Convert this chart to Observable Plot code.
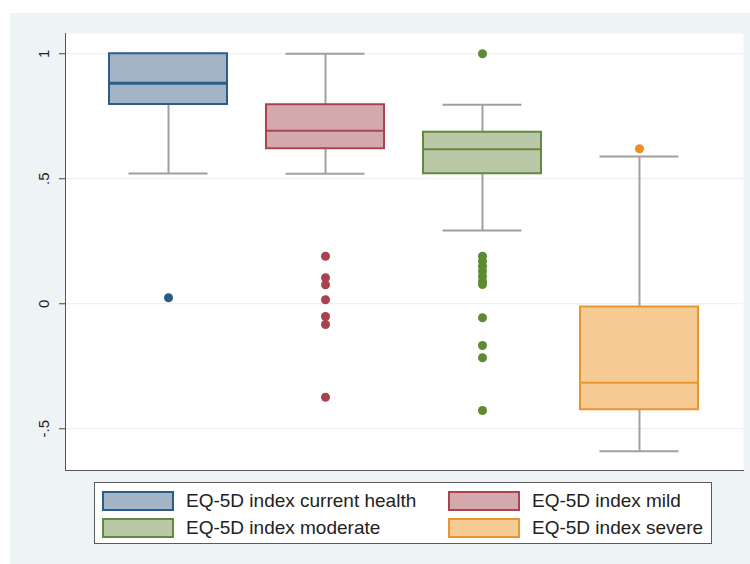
<!DOCTYPE html>
<html>
<head>
<meta charset="utf-8">
<script src="https://cdn.jsdelivr.net/npm/d3@7"></script>
<script src="https://cdn.jsdelivr.net/npm/@observablehq/plot@0.6"></script>
<style>
  body { margin: 0; background: #fff; }
  #wrap { position: relative; width: 750px; height: 564px; overflow: hidden; background: #fff; font-family: "Liberation Sans", Arial, sans-serif; }
  #panel { position: absolute; left: 10px; top: 13px; width: 740px; height: 551px; background: #eef3f6; }
  #chart { position: absolute; left: 0; top: 0; }
  #legend { position: absolute; left: 94px; top: 482px; width: 618px; height: 62px; border: 1px solid #5a5a5a; background: #fff; box-sizing: border-box; }
  .sw { position: absolute; width: 72px; height: 20px; box-sizing: border-box; border: 2px solid; }
  .lt { position: absolute; font-size: 19px; color: #222; line-height: 20px; white-space: nowrap; }
</style>
</head>
<body>
<div id="wrap">
  <div id="panel"></div>
  <div id="chart"></div>
  <div id="legend"></div>
</div>
<script>
const categories = ["EQ-5D index current health", "EQ-5D index mild", "EQ-5D index moderate", "EQ-5D index severe"];
const q1 = [0.797, 0.62, 0.52, -0.424];
const medians = [0.882, 0.692, 0.618, -0.316];
const q3 = [1.0, 0.796, 0.686, -0.013];
const whiskerLow = [0.521, 0.52, 0.293, -0.59];
const whiskerHigh = [1.0, 1.0, 0.796, 0.589];
const outliers = [
  [0.024],
  [0.19, 0.104, 0.076, 0.016, -0.051, -0.083, -0.374],
  [1.0, 0.19, 0.17, 0.15, 0.13, 0.11, 0.09, 0.077, -0.056, -0.167, -0.216, -0.427],
  [0.62]
];
const fills = ["#a3b4c6", "#d4a9ae", "#bac8a7", "#f5ca93"];
const strokes = ["#2c5d8a", "#ab4450", "#628a3c", "#ea9430"];
const dotColors = ["#2a5b87", "#a8424c", "#5f8a34", "#eb8f22"];
const yTicks = [-0.5, 0, 0.5, 1];
const yTickLabels = ["-.5", "0", ".5", "1"];

const rows = categories.map((c, i) => ({
  cat: c, q1: q1[i], med: medians[i], q3: q3[i], lo: whiskerLow[i], hi: whiskerHigh[i],
  fill: fills[i], stroke: strokes[i], mw: i === 0 ? 3 : 2
}));
const pts = categories.flatMap((c, i) => outliers[i].map(v => ({cat: c, v, color: dotColors[i]})));

const chart = Plot.plot({
  width: 750, height: 480,
  marginLeft: 65, marginRight: 7, marginTop: 33, marginBottom: 10,
  style: { background: "transparent", fontFamily: "'Liberation Sans', Arial, sans-serif", fontSize: "15px", color: "#333" },
  x: { domain: categories, paddingInner: 0.246, paddingOuter: 0.27, axis: null },
  y: { domain: [-0.667, 1.081] },
  marks: [
    Plot.frame({ fill: "white", stroke: "none" }),
    Plot.ruleY(yTicks, { stroke: "#e9eef2", strokeWidth: 1 }),
    Plot.ruleX(rows, { x: "cat", y1: "lo", y2: "q1", stroke: "#a0a0a0", strokeWidth: 2 }),
    Plot.ruleX(rows, { x: "cat", y1: "q3", y2: "hi", stroke: "#a0a0a0", strokeWidth: 2 }),
    Plot.tickY(rows, { x: "cat", y: "lo", stroke: "#a0a0a0", strokeWidth: 2, insetLeft: 19.5, insetRight: 19.5 }),
    Plot.tickY(rows, { x: "cat", y: "hi", stroke: "#a0a0a0", strokeWidth: 2, insetLeft: 19.5, insetRight: 19.5 }),
    Plot.barY(rows, { x: "cat", y1: "q1", y2: "q3", fill: "fill", stroke: "stroke", strokeWidth: 2 }),
    Plot.tickY(rows, { x: "cat", y: "med", stroke: "stroke", strokeWidth: "mw" }),
    Plot.dot(pts, { x: "cat", y: "v", fill: "color", r: 4.5, stroke: "none" }),
    Plot.axisY(yTicks, {
      tickFormat: d => yTickLabels[yTicks.indexOf(d)],
      tickRotate: -90, tickSize: 6, tickPadding: 11,
      textAnchor: "middle", lineAnchor: "bottom",
      fontSize: 15, label: null, stroke: "#444", fill: "#222"
    }),
    Plot.frame({ anchor: "left", stroke: "#555" }),
    Plot.frame({ anchor: "bottom", stroke: "#555" })
  ]
});
document.getElementById("chart").appendChild(chart);

const legend = document.getElementById("legend");
const pos = [[7, 8], [353, 8], [7, 35], [353, 35]];
categories.forEach((c, i) => {
  const sw = document.createElement("div");
  sw.className = "sw";
  sw.style.left = pos[i][0] + "px";
  sw.style.top = pos[i][1] + "px";
  sw.style.background = fills[i];
  sw.style.borderColor = strokes[i];
  legend.appendChild(sw);
  const t = document.createElement("div");
  t.className = "lt";
  t.style.left = (pos[i][0] + 84) + "px";
  t.style.top = pos[i][1] + "px";
  t.textContent = c;
  legend.appendChild(t);
});
</script>
</body>
</html>
